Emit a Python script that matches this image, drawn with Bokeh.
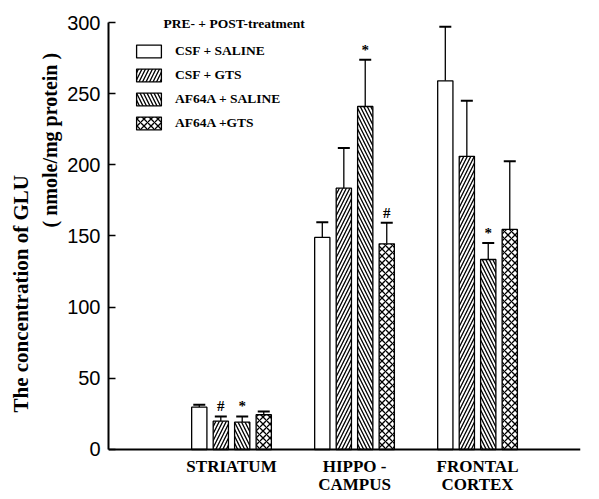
from bokeh.plotting import figure
from bokeh.models import (ColumnDataSource, Whisker, TeeHead, Legend, LegendItem,
                          Label, FixedTicker, Range1d, Span, Title)
from bokeh.transform import dodge
from bokeh.embed import file_html
from bokeh.resources import INLINE
from bokeh.core.properties import value

# ---- data ----
groups = ["STRIATUM", "HIPPO -\nCAMPUS", "FRONTAL\nCORTEX"]
group_pos = [1, 2, 3]
series_names = ["CSF + SALINE", "CSF + GTS", "AF64A + SALINE", "AF64A +GTS"]

csf_saline = [29.7, 149.0, 259.0]
csf_saline_err = [1.7, 10.7, 38.0]
csf_gts = [19.9, 183.6, 206.0]
csf_gts_err = [3.3, 28.2, 39.0]
af_saline = [19.2, 241.0, 133.5]
af_saline_err = [4.0, 32.8, 11.5]
af_gts = [24.4, 144.5, 154.6]
af_gts_err = [2.3, 14.8, 48.0]

csf_saline_mark = ["", "", ""]
csf_gts_mark = ["#", "", ""]
af_saline_mark = ["*", "*", "*"]
af_gts_mark = ["", "#", ""]

y_ticks = [0, 50, 100, 150, 200, 250, 300]

# ---- figure ----
W, H = 598, 498
p = figure(width=W, height=H, output_backend="svg", toolbar_location=None,
           x_range=Range1d(0, 3.837), y_range=Range1d(-34.43, 315.46),
           min_border_left=108, min_border_right=18, min_border_top=0,
           min_border_bottom=0)
p.title.visible = False
p.below = []
p.outline_line_color = None
p.grid.visible = False
p.background_fill_color = "white"

serif = "Liberation Serif"

series = [
    (csf_saline, csf_saline_err, csf_saline_mark, None, -0.262),
    (csf_gts, csf_gts_err, csf_gts_mark, "/", -0.087),
    (af_saline, af_saline_err, af_saline_mark, "\\", 0.087),
    (af_gts, af_gts_err, af_gts_mark, "x", 0.262),
]

items = []
for (vals, errs, marks, hatch, off), name in zip(series, series_names):
    src = ColumnDataSource(dict(
        x=group_pos, top=vals,
        upper=[v + e for v, e in zip(vals, errs)],
        mark=marks))
    kw = dict(hatch_pattern=hatch, hatch_color="black", hatch_scale=7,
              hatch_weight=1.3) if hatch else {}
    r = p.vbar(x=dodge("x", off, range=p.x_range), top="top", bottom=0,
               width=0.124, source=src, fill_color="white",
               line_color="black", line_width=1.3, **kw)
    w = Whisker(base=dodge("x", off, range=p.x_range), lower="top", upper="upper",
                source=src, line_color="black", line_width=1.3,
                upper_head=TeeHead(size=12, line_width=2, line_color="black"),
                lower_head=None)
    p.add_layout(w)
    p.text(x=dodge("x", off, range=p.x_range), y="upper", text="mark", source=src,
           text_font=value(serif), text_font_style="bold", text_font_size="15px",
           text_align="center", text_baseline="bottom", y_offset=-2,
           text_color="black")
    items.append(LegendItem(label=name, renderers=[r]))

# x axis line at zero and category labels below it
p.add_layout(Span(location=0, dimension="width", line_color="black", line_width=2))
p.text(x=group_pos, y=[0, 0, 0], text=groups, text_font=value(serif),
       text_font_style="bold", text_font_size="17px", text_align="center",
       text_baseline="top", text_line_height=0.92, y_offset=8, text_color="black")

legend = Legend(items=items, location=(25, 365), orientation="vertical",
                glyph_width=31, glyph_height=16, label_height=20, spacing=4,
                padding=0, margin=0, label_standoff=11,
                label_text_font=serif, label_text_font_style="bold",
                label_text_font_size="13.5px", label_text_color="black",
                border_line_color=None, background_fill_alpha=0)
p.add_layout(legend, "center")

p.add_layout(Label(x=0.447, y=299.3, text="PRE- + POST-treatment",
                   text_font=serif, text_font_style="bold", text_font_size="13.5px",
                   text_color="black", text_baseline="middle", text_align="left"))

# y axis titles (two lines, offset like the original)
p.add_layout(Title(text="( nmole/mg protein )", align="left", offset=271,
                   text_font=serif, text_font_style="bold", text_font_size="20px",
                   text_color="black", standoff=8), "left")
p.add_layout(Title(text="The concentration of GLU", align="left", offset=86,
                   text_font=serif, text_font_style="bold", text_font_size="21px",
                   text_color="black", standoff=0), "left")

# y axis
p.yaxis.ticker = FixedTicker(ticks=y_ticks)
p.yaxis.bounds = (0, 300)
p.yaxis.major_tick_in = 7
p.yaxis.major_tick_out = 0
p.yaxis.minor_tick_line_color = None
p.yaxis.axis_line_width = 2
p.yaxis.axis_line_color = "black"
p.yaxis.major_tick_line_color = "black"
p.yaxis.major_tick_line_width = 1.3
p.yaxis.major_label_text_font = "Liberation Sans"
p.yaxis.major_label_text_font_size = "20px"
p.yaxis.major_label_standoff = 8
p.yaxis.major_label_text_color = "black"

open("out.html", "w").write(file_html(p, INLINE))
